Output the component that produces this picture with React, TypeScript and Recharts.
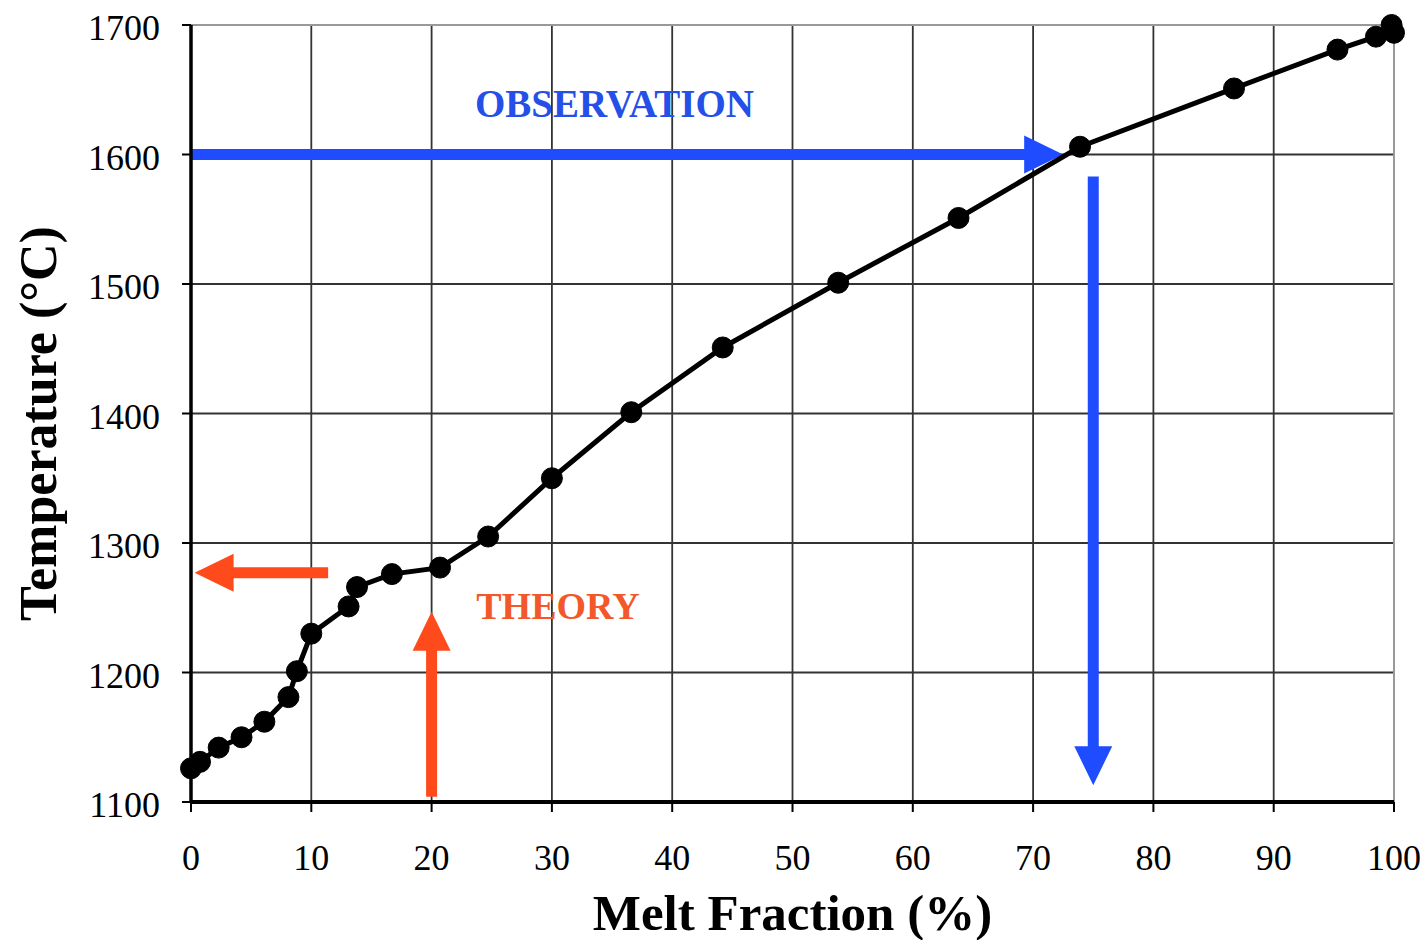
import React from 'react';
import { ComposedChart, Line, XAxis, YAxis, CartesianGrid, ReferenceLine, ReferenceDot } from 'recharts';

const meltFraction = [0, 0.75, 2.3, 4.2, 6.1, 8.1, 8.8, 10, 13.1, 13.8, 16.7, 20.7, 24.7, 30, 36.6, 44.2, 53.8, 63.8, 73.9, 86.7, 95.3, 98.5, 99.8, 100];
const temperature = [1126, 1131, 1142, 1150, 1162, 1181, 1201, 1230, 1251, 1266, 1276, 1281, 1305, 1350, 1401, 1451, 1501, 1551, 1606, 1651, 1681, 1691, 1700, 1694];

const xTicks = [0, 10, 20, 30, 40, 50, 60, 70, 80, 90, 100];
const yTicks = [1100, 1200, 1300, 1400, 1500, 1600, 1700];

const observationArrows = [
  [{ x: 0, y: 1600 }, { x: 72.5, y: 1600 }],
  [{ x: 75, y: 1583 }, { x: 75, y: 1113 }],
];
const theoryArrows = [
  [{ x: 11.4, y: 1277 }, { x: 0.3, y: 1277 }],
  [{ x: 20, y: 1104 }, { x: 20, y: 1247 }],
];
const observationLabel = { x: 35.2, y: 1640, text: 'OBSERVATION' };
const theoryLabel = { x: 30.5, y: 1252, text: 'THEORY' };

const data = meltFraction.map((x, i) => ({ x, t: temperature[i] }));

const FONT = '"Liberation Serif", "Times New Roman", Times, serif';
const BLUE = '#1f4cff';
const ORANGE = '#ff4a1c';

const makeArrow = (color: string) => (props: any) => {
  const { x1, y1, x2, y2 } = props;
  if ([x1, y1, x2, y2].some((v) => v == null || isNaN(v))) return <g />;
  const len = Math.hypot(x2 - x1, y2 - y1);
  const ux = (x2 - x1) / len;
  const uy = (y2 - y1) / len;
  const px = -uy;
  const py = ux;
  const w = 5.5;
  const H = 19;
  const L = 39;
  const bx = x2 - ux * L;
  const by = y2 - uy * L;
  const pts = [
    [x1 + px * w, y1 + py * w],
    [bx + px * w, by + py * w],
    [bx + px * H, by + py * H],
    [x2, y2],
    [bx - px * H, by - py * H],
    [bx - px * w, by - py * w],
    [x1 - px * w, y1 - py * w],
  ];
  return <polygon points={pts.map((p) => p.join(',')).join(' ')} fill={color} stroke="none" />;
};

const XTick = (props: any) => {
  const { x, y, payload } = props;
  return (
    <text x={x} y={y} dy={56} textAnchor="middle" fontSize={36} fontFamily={FONT} fill="#000">
      {payload.value}
    </text>
  );
};

const YTick = (props: any) => {
  const { x, y, payload } = props;
  return (
    <text x={x - 20} y={y} dy={15} textAnchor="end" fontSize={36} fontFamily={FONT} fill="#000">
      {payload.value}
    </text>
  );
};

const XTitle = (props: any) => {
  const vb = props.viewBox || { x: 191, y: 802, width: 1203, height: 138 };
  return (
    <text x={vb.x + vb.width / 2} y={vb.y + 128} textAnchor="middle" fontSize={51} fontWeight="bold" fontFamily={FONT} fill="#000">
      Melt Fraction (%)
    </text>
  );
};

const YTitle = (props: any) => {
  const vb = props.viewBox || { x: 81, y: 25, width: 110, height: 777 };
  const cx = vb.x - 43;
  const cy = vb.y + vb.height / 2 + 10;
  return (
    <text x={cx} y={cy} dy={18} textAnchor="middle" fontSize={52} fontWeight="bold" fontFamily={FONT} fill="#000" transform={`rotate(-90, ${cx}, ${cy})`}>
      Temperature (°C)
    </text>
  );
};

export default function App() {
  return (
    <div style={{ position: 'absolute', left: 0, top: 0, width: 1427, height: 940, background: '#fff' }}>
      <ComposedChart width={1427} height={940} data={data} margin={{ top: 25, right: 33, bottom: 0, left: 81 }}>
        <CartesianGrid stroke="#333" strokeWidth={1.8} />
        <XAxis
          dataKey="x"
          type="number"
          domain={[0, 100]}
          ticks={xTicks}
          interval={0}
          height={138}
          tickSize={10}
          axisLine={{ stroke: '#000', strokeWidth: 4 }}
          tickLine={{ stroke: '#000', strokeWidth: 2 }}
          tick={<XTick />}
          label={{ content: XTitle } as any}
        />
        <YAxis
          type="number"
          domain={[1100, 1700]}
          ticks={yTicks}
          interval={0}
          width={110}
          tickSize={9}
          axisLine={{ stroke: '#000', strokeWidth: 3.5 }}
          tickLine={{ stroke: '#000', strokeWidth: 2 }}
          tick={<YTick />}
          label={{ content: YTitle } as any}
        />
        <ReferenceLine y={1700} stroke="#999" strokeWidth={2} />
        <ReferenceLine x={100} stroke="#999" strokeWidth={2} />
        {observationArrows.map((seg, i) => (
          <ReferenceLine key={'o' + i} segment={seg} shape={makeArrow(BLUE)} ifOverflow="visible" />
        ))}
        {theoryArrows.map((seg, i) => (
          <ReferenceLine key={'t' + i} segment={seg} shape={makeArrow(ORANGE)} ifOverflow="visible" />
        ))}
        <Line
          type="linear"
          dataKey="t"
          stroke="#000"
          strokeWidth={5}
          dot={{ r: 10.5, fill: '#000', stroke: '#000', strokeWidth: 1 }}
          isAnimationActive={false}
        />
        <ReferenceDot
          x={observationLabel.x}
          y={observationLabel.y}
          r={0}
          fill="none"
          stroke="none"
          label={{ value: observationLabel.text, position: 'center', fill: '#2550e8', fontSize: 39, fontWeight: 'bold', fontFamily: FONT }}
        />
        <ReferenceDot
          x={theoryLabel.x}
          y={theoryLabel.y}
          r={0}
          fill="none"
          stroke="none"
          label={{ value: theoryLabel.text, position: 'center', fill: '#f2582a', fontSize: 38, fontWeight: 'bold', fontFamily: FONT }}
        />
      </ComposedChart>
    </div>
  );
}
